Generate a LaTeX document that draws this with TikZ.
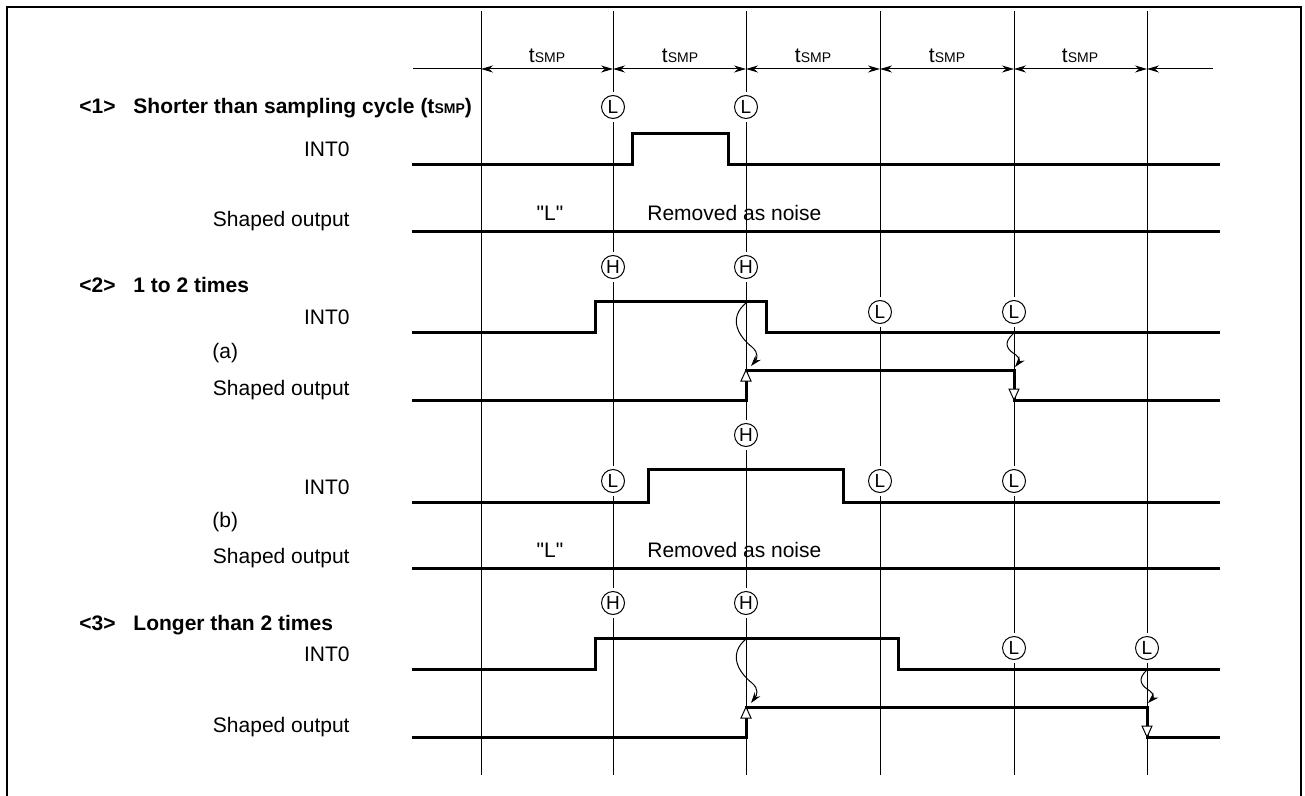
\documentclass[tikz,border=0pt]{standalone}
\usepackage{fontspec}
\setmainfont{Liberation Sans}[Ligatures=TeXOff]
\usetikzlibrary{arrows.meta}
\newcommand{\tsmp}{t{\fontsize{7}{8}\selectfont SMP}}
\begin{document}
\begin{tikzpicture}[x=0.5pt,y=-0.5pt,
  sig/.style={line width=1.5pt, line join=miter, line cap=butt},
  gridline/.style={line width=0.5pt},
  lbl/.style={font=\fontsize{10.5}{12}\selectfont, inner sep=0pt},
  ttl/.style={font=\fontsize{10.5}{12}\selectfont\bfseries, anchor=base west, inner sep=0pt},
  mk/.style={circle, fill=white, inner sep=0pt, minimum size=15pt, font=\fontsize{9.5}{10}\selectfont,
     path picture={\draw[line width=0.5pt] (path picture bounding box.center) circle (5.75pt);}},
  dimarr/.style={line width=0.5pt, {Stealth[length=6pt,width=3.5pt]}-{Stealth[length=6pt,width=3.5pt]}},
  onearr/.style={line width=0.5pt, -{Stealth[length=6pt,width=3.5pt]}},
  wav/.style={line width=0.5pt, -{Stealth[length=5.5pt,width=3.5pt]}},
  tri/.style={line width=0.5pt, fill=white}
]
\useasboundingbox (0,0) rectangle (1305,796);
% frame
\draw[line width=0.6pt] (7,796) -- (7,7) -- (1301,7) -- (1301,796);
% sampling lines
\foreach \x in {481,613,746,880,1014,1147} \draw[gridline] (\x,11) -- (\x,775);
% header dimension line
\coordinate (d0) at (413,69);
\coordinate (d1) at (481,69);
\coordinate (d2) at (613,69);
\coordinate (d3) at (746,69);
\coordinate (d4) at (880,69);
\coordinate (d5) at (1014,69);
\coordinate (d6) at (1147,69);
\coordinate (d7) at (1213,69);
\draw[gridline] (d0) -- (d1);
\draw[dimarr] (d1) -- (d2);
\draw[dimarr] (d2) -- (d3);
\draw[dimarr] (d3) -- (d4);
\draw[dimarr] (d4) -- (d5);
\draw[dimarr] (d5) -- (d6);
\draw[onearr] (d7) -- (d6);
\node[lbl, anchor=base] (t1) at (547,63) {\tsmp};
\node[lbl, anchor=base] (t2) at (680,63) {\tsmp};
\node[lbl, anchor=base] (t3) at (813,63) {\tsmp};
\node[lbl, anchor=base] (t4) at (947,63) {\tsmp};
\node[lbl, anchor=base] (t5) at (1080,63) {\tsmp};
% sample markers
\node[mk] (m1a) at (613,107) {L};
\node[mk] (m1b) at (746,107) {L};
\node[mk] (m2a) at (613,267) {H};
\node[mk] (m2b) at (746,267) {H};
\node[mk] (m2c) at (880,312) {L};
\node[mk] (m2d) at (1014,312) {L};
\node[mk] (m3a) at (746,435) {H};
\node[mk] (m3b) at (613,481) {L};
\node[mk] (m3c) at (880,481) {L};
\node[mk] (m3d) at (1014,481) {L};
\node[mk] (m4a) at (613,603) {H};
\node[mk] (m4b) at (746,603) {H};
\node[mk] (m4c) at (1014,648) {L};
\node[mk] (m4d) at (1147,648) {L};
% signals
\draw[sig] (412,165) -- (632,165) -- (632,134) -- (728,134) -- (728,165) -- (1220,165);
\draw[sig] (412,232) -- (1220,232);
\draw[sig] (412,333) -- (595,333) -- (595,302) -- (766,302) -- (766,333) -- (1220,333);
\draw[sig] (412,400) -- (746,400) -- (746,370) -- (1014,370) -- (1014,400) -- (1220,400);
\draw[sig] (412,502) -- (648,502) -- (648,469) -- (843,469) -- (843,502) -- (1220,502);
\draw[sig] (412,568) -- (1220,568);
\draw[sig] (412,669) -- (595,669) -- (595,638) -- (898,638) -- (898,669) -- (1220,669);
\draw[sig] (412,737) -- (746,737) -- (746,707) -- (1147,707) -- (1147,737) -- (1220,737);
% edge triangles
\draw[tri] (746,370) -- (741,381) -- (751,381) -- cycle;
\draw[tri] (1014,400) -- (1009,389) -- (1019,389) -- cycle;
\draw[tri] (746,707) -- (741,718) -- (751,718) -- cycle;
\draw[tri] (1147,737) -- (1142,726) -- (1152,726) -- cycle;
% causal wavy arrows
\coordinate (a1s) at (746,303);
\coordinate (a1e) at (751,366);
\coordinate (a2s) at (1013,334);
\coordinate (a2e) at (1015,367);
\coordinate (a3s) at (746,639);
\coordinate (a3e) at (751,703);
\coordinate (a4s) at (1147,670);
\coordinate (a4e) at (1148,703);
\draw[wav] (a1s) .. controls (728,318) and (738,336) .. (752,347) .. controls (759,353) and (757,359) .. (a1e);
\draw[wav] (a2s) .. controls (1002,344) and (1008,350) .. (1016,355) .. controls (1020,358) and (1019,362) .. (a2e);
\draw[wav] (a3s) .. controls (728,654) and (738,672) .. (752,683) .. controls (759,689) and (757,695) .. (a3e);
\draw[wav] (a4s) .. controls (1136,680) and (1142,686) .. (1150,691) .. controls (1154,694) and (1153,698) .. (a4e);
% titles
\node[ttl] (h1) at (79,114) {<1>\hspace{6pt} Shorter than sampling cycle (\tsmp)};
\node[ttl] (h2) at (79,293) {<2>\hspace{6pt} 1 to 2 times};
\node[ttl] (h3) at (79,630) {<3>\hspace{6pt} Longer than 2 times};
% row labels
\node[lbl, anchor=base east] (i1) at (350,157) {INT0};
\node[lbl, anchor=base east] (s1) at (350,227) {Shaped output};
\node[lbl, anchor=base east] (i2) at (350,325) {INT0};
\node[lbl, anchor=base west] (pa) at (212,358) {(a)};
\node[lbl, anchor=base east] (s2) at (350,395) {Shaped output};
\node[lbl, anchor=base east] (i3) at (350,494) {INT0};
\node[lbl, anchor=base west] (pb) at (212,527) {(b)};
\node[lbl, anchor=base east] (s3) at (350,563) {Shaped output};
\node[lbl, anchor=base east] (i4) at (350,661) {INT0};
\node[lbl, anchor=base east] (s4) at (350,732) {Shaped output};
% annotations
\node[lbl, anchor=base] (q1) at (550,221) {"L"};
\node[lbl, anchor=base west] (n1) at (647,221) {Removed as noise};
\node[lbl, anchor=base] (q2) at (550,557) {"L"};
\node[lbl, anchor=base west] (n2) at (647,557) {Removed as noise};
\end{tikzpicture}
\end{document}
